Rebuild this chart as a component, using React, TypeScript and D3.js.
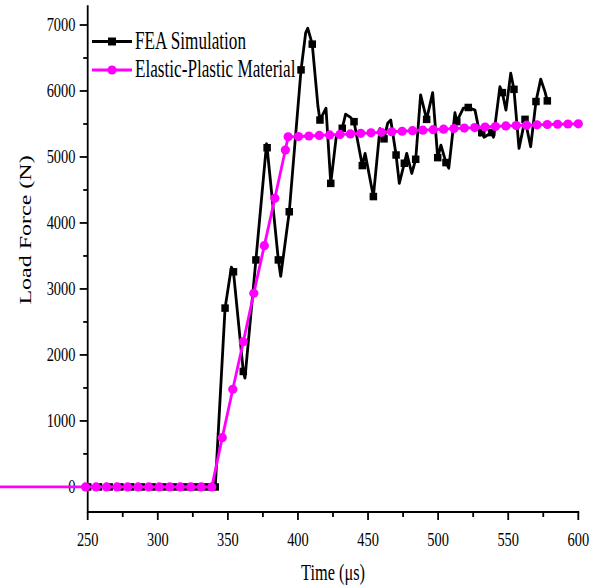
import React from "react";
import * as d3 from "d3";

// ---- FEA simulation (black): points carrying a square marker ----
const feaMarkTime = [
  250, 257.7, 265.3, 273, 280.7, 288.3, 296, 303.7, 311.3, 319, 326.7, 334.3, 341,
  348, 354, 361, 370, 378, 386, 393.8, 402.2, 410.2, 415.7, 423.4, 431.6, 440,
  445.9, 453.8, 461.4, 470, 475.9, 484, 491.8, 499.7, 505.6, 513.3, 521.5, 531.1,
  538.2, 545.8, 554.1, 562, 569.8, 577.9,
];
const feaMarkLoad = [
  0, 0, 0, 0, 0, 0, 0, 0, 0, 0, 0, 0, 0,
  2710, 3260, 1750, 3440, 5140, 3440, 4170, 6320, 6710, 5560, 4600, 5435, 5535,
  4870, 4400, 5275, 5030, 4905, 4965, 5570, 4990, 4915, 5535, 5750, 5370,
  5370, 5975, 6025, 5570, 5840, 5850,
];

// ---- FEA simulation: intermediate samples of the curve (no marker) ----
const feaCurveTime = [
  352.5, 362.2, 377.6, 387.7, 405.5, 407, 414.3, 420, 427.3, 434, 437.5, 447.9,
  458.5, 464, 466.2, 472.3, 477.6, 481.2, 487.5, 496.1, 502, 507.6, 512, 518,
  526.3, 529.9, 532.7, 539.5, 544.1, 548.4, 551.8, 557.7, 566, 573.2, 576.2,
];
const feaCurveLoad = [
  3330, 1650, 5200, 3190, 6880, 6950, 5760, 5740, 5300, 5650, 5600, 5055,
  5430, 5510, 5560, 4600, 5055, 4750, 5940, 5975, 5180, 4830, 5670, 5740,
  5710, 5330, 5300, 5300, 6065, 5710, 6270, 5130, 5155, 6180, 5990,
];

// ---- Elastic-plastic material model (magenta) ----
const epTime = [
  185, 248.5, 256, 263.5, 271, 278.5, 286, 293.5, 301, 308.5, 316, 323.5, 331,
  338.5, 346, 353.5, 361, 368.5, 376, 383.5, 391, 393, 400.4, 407.8, 415.2, 422.6,
  430, 437.4, 444.8, 452.1, 459.5, 466.9, 474.3, 481.7, 489.1, 496.5, 503.9, 511.3,
  518.7, 526.1, 533.5, 540.9, 548.3, 555.7, 563.1, 570.5, 577.9, 585.2, 592.6, 600,
];
const epLoad = [
  0, 0, 0, 0, 0, 0, 0, 0, 0, 0, 0, 0, 0,
  0, 747, 1480, 2200, 2935, 3656, 4374, 5106, 5305, 5310, 5318, 5326, 5334,
  5342, 5350, 5358, 5366, 5374, 5382, 5390, 5398, 5406, 5414, 5422, 5430,
  5438, 5446, 5454, 5462, 5470, 5476, 5482, 5487, 5492, 5496, 5500, 5503,
];

// ---- Axes ----
const xMajorTicks = [250, 300, 350, 400, 450, 500, 550, 600];
const xMinorTicks = [275, 325, 375, 425, 475, 525, 575];
const yMajorTicks = [0, 1000, 2000, 3000, 4000, 5000, 6000, 7000];
const yMinorTicks = [500, 1500, 2500, 3500, 4500, 5500, 6500];
const xDomain = [250, 600];
const yDomain = [-380, 7300];

const seriesNames = ["FEA Simulation", "Elastic-Plastic Material"];
const xTitle = "Time (\u03bcs)";
const yTitle = "Load Force (N)";

const W = 589;
const H = 587;
const FONT = "'Liberation Serif', 'Times New Roman', serif";
const MAGENTA = "#ff00ff";

export default function App() {
  const x = d3.scaleLinear().domain(xDomain).range([87.7, 578.3]);
  const y = d3.scaleLinear().domain(yDomain).range([512, 5.2]);
  const x0 = x(xDomain[0]);
  const yBase = y(yDomain[0]);

  const markers = feaMarkTime.map((t, i) => [t, feaMarkLoad[i]] as [number, number]);
  const curveOnly = feaCurveTime.map((t, i) => [t, feaCurveLoad[i]] as [number, number]);
  const feaPoints = [...markers, ...curveOnly].sort((a, b) => a[0] - b[0]);
  const epPoints = epTime.map((t, i) => [t, epLoad[i]] as [number, number]);

  const line = d3
    .line<[number, number]>()
    .x((d) => x(d[0]))
    .y((d) => y(d[1]));

  const sq = 7.5;

  return (
    <div style={{ position: "absolute", left: 0, top: 0 }}>
      <svg width={W} height={H} style={{ display: "block", background: "#fff" }}>
        {/* axes */}
        <g stroke="#000" strokeWidth={1.8} fill="none">
          <line x1={x0} x2={x0} y1={yBase + 0.9} y2={y(yDomain[1])} />
          <line x1={x0} x2={x(xDomain[1]) + 0.9} y1={yBase} y2={yBase} />
          {xMajorTicks.map((t) => (
            <line key={"xM" + t} x1={x(t)} x2={x(t)} y1={yBase} y2={yBase + 8} />
          ))}
          {xMinorTicks.map((t) => (
            <line key={"xm" + t} x1={x(t)} x2={x(t)} y1={yBase} y2={yBase + 5} />
          ))}
          {yMajorTicks.map((v) => (
            <line key={"yM" + v} x1={x0 - 8} x2={x0} y1={y(v)} y2={y(v)} />
          ))}
          {yMinorTicks.map((v) => (
            <line key={"ym" + v} x1={x0 - 4.5} x2={x0} y1={y(v)} y2={y(v)} />
          ))}
        </g>

        {/* tick labels */}
        <g fontFamily={FONT} fontSize={19.5} fill="#000">
          {xMajorTicks.map((t) => (
            <g key={"xl" + t} transform={`translate(${x(t)},546) scale(0.74,1)`}>
              <text textAnchor="middle">{t}</text>
            </g>
          ))}
          {yMajorTicks.map((v) => (
            <g key={"yl" + v} transform={`translate(75.5,${y(v) + 6.5}) scale(0.74,1)`}>
              <text textAnchor="end">{v}</text>
            </g>
          ))}
        </g>

        {/* axis titles */}
        <g fontFamily={FONT} fill="#000">
          <g transform={`translate(333,580) scale(0.68,1)`}>
            <text textAnchor="middle" fontSize={24}>{xTitle}</text>
          </g>
          <g transform={`translate(31,230) rotate(-90) scale(1,0.68)`}>
            <text textAnchor="middle" fontSize={24}>{yTitle}</text>
          </g>
        </g>

        {/* FEA simulation */}
        <path d={line(feaPoints) ?? ""} fill="none" stroke="#000" strokeWidth={2.8} strokeLinejoin="round" />
        {markers.map((d, i) => (
          <rect key={"fm" + i} x={x(d[0]) - sq / 2} y={y(d[1]) - sq / 2} width={sq} height={sq} fill="#000" />
        ))}

        {/* elastic-plastic material */}
        <path d={line(epPoints) ?? ""} fill="none" stroke={MAGENTA} strokeWidth={2.8} strokeLinejoin="round" />
        {epPoints
          .filter((d) => d[0] >= xDomain[0] - 2)
          .map((d, i) => (
            <circle key={"em" + i} cx={x(d[0])} cy={y(d[1])} r={4.6} fill={MAGENTA} />
          ))}

        {/* legend */}
        <g>
          <line x1={92} x2={132} y1={41.5} y2={41.5} stroke="#000" strokeWidth={2.8} />
          <rect x={112 - 4} y={41.5 - 4} width={8} height={8} fill="#000" />
          <line x1={92} x2={132} y1={70} y2={70} stroke={MAGENTA} strokeWidth={2.8} />
          <circle cx={112} cy={70} r={4.6} fill={MAGENTA} />
          <g fontFamily={FONT} fontSize={26} fill="#000">
            <g transform="translate(135,49.3) scale(0.66,1)">
              <text>{seriesNames[0]}</text>
            </g>
            <g transform="translate(135,77.3) scale(0.66,1)">
              <text>{seriesNames[1]}</text>
            </g>
          </g>
        </g>
      </svg>
    </div>
  );
}
